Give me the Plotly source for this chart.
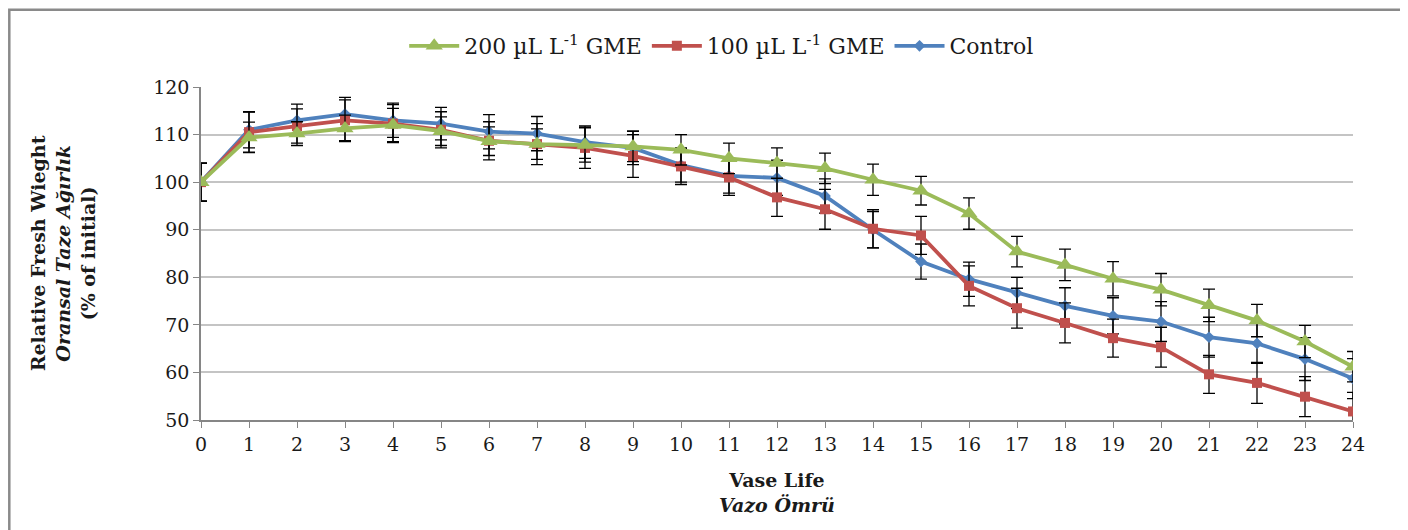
import plotly.graph_objects as go

days = list(range(25))
tick_labels = [str(d) for d in days]

g200 = [100, 109.4, 110.2, 111.3, 112.0, 110.7, 108.6, 108.0, 107.8, 107.5, 106.8, 105.0, 104.0, 102.9,
        100.5, 98.2, 93.4, 85.4, 82.6, 79.7, 77.4, 74.1, 70.9, 66.5, 61.2]
g200_err = [4, 3.2, 2.5, 2.8, 3.5, 3.0, 3.0, 3.2, 3.6, 3.2, 3.2, 3.2, 3.2, 3.2,
            3.3, 3.0, 3.3, 3.2, 3.3, 3.6, 3.4, 3.4, 3.4, 3.4, 3.2]
g100 = [100, 110.5, 111.8, 113.0, 112.3, 111.0, 108.7, 108.0, 107.2, 105.5, 103.3, 101.0, 96.8, 94.3,
        90.2, 88.8, 78.2, 73.5, 70.4, 67.2, 65.3, 59.6, 57.8, 54.9, 51.8]
g100_err = [4, 4.2, 3.6, 4.3, 4.0, 3.8, 4.0, 4.3, 4.3, 4.5, 3.8, 3.8, 4.0, 4.2,
            4.0, 4.0, 4.2, 4.2, 4.2, 4.0, 4.2, 4.0, 4.3, 4.2, 4.0]
ctrl = [100, 111.0, 113.0, 114.3, 113.0, 112.3, 110.6, 110.2, 108.4, 107.2, 103.6, 101.3, 100.9, 97.1,
        90.0, 83.3, 79.6, 76.7, 74.0, 71.9, 70.7, 67.4, 66.1, 62.8, 58.7]
ctrl_err = [4, 3.8, 3.4, 3.5, 3.6, 3.4, 3.6, 3.6, 3.4, 3.5, 3.6, 3.6, 3.7, 3.6,
            3.8, 3.7, 3.6, 3.3, 3.8, 3.8, 4.2, 4.2, 4.2, 4.5, 4.2]

series = [
    ("200 µL L<sup>-1</sup> GME", g200, g200_err, "#9BBB59", "triangle-up", 15),
    ("100 µL L<sup>-1</sup> GME", g100, g100_err, "#C0504D", "square", 10),
    ("Control", ctrl, ctrl_err, "#4F81BD", "diamond", 9),
]

FONT = "DejaVu Serif"

fig = go.Figure()
# draw in reverse so green on top
for name, vals, err, col, sym, sz in reversed(series):
    fig.add_trace(go.Scatter(
        x=days, y=vals, name=name, mode="lines+markers",
        line=dict(color=col, width=3.8),
        marker=dict(symbol=sym, size=sz, color=col),
        error_y=dict(type="data", array=err, visible=True, color="black", thickness=1.3, width=6),
    ))

fig.update_layout(
    width=1408, height=530,
    paper_bgcolor="white", plot_bgcolor="white",
    margin=dict(l=193, r=63, t=79, b=118, autoexpand=False),
    font=dict(family=FONT, size=18, color="#1a1a1a"),
    showlegend=True,
    legend=dict(orientation="h", x=0.452, xanchor="center", y=1.123, yanchor="middle",
                traceorder="reversed", font=dict(family=FONT, size=22), itemwidth=50),
    xaxis=dict(range=[0, 24], tickmode="array", tickvals=days, ticktext=tick_labels,
               showgrid=False, showline=True, linecolor="#868686", linewidth=1.5,
               ticks="outside", ticklen=6, tickcolor="#868686", zeroline=False,
               tickfont=dict(size=19)),
    yaxis=dict(range=[50, 120], dtick=10, showgrid=True, gridcolor="#c4c4c4", gridwidth=1.5,
               showline=True, linecolor="#868686", linewidth=1.5,
               ticks="outside", ticklen=6, tickcolor="#868686", zeroline=False,
               tickfont=dict(size=19)),
    annotations=[
        dict(text="<b>Vase Life</b><br><b><i>Vazo Ömrü</i></b>", xref="paper", yref="paper",
             x=0.5, y=-0.14, xanchor="center", yanchor="top", showarrow=False,
             font=dict(size=19), align="center"),
        dict(text="<b>Relative Fresh Wieght</b><br><b><i>Oransal Taze Ağırlık</i></b><br><b>(% of initial)</b>",
             xref="paper", yref="paper", x=-0.12, y=0.5, xanchor="center", yanchor="middle",
             showarrow=False, textangle=-90, font=dict(size=19), align="center"),
    ],
    shapes=[dict(type="rect", xref="paper", yref="paper", x0=-0.1664, x1=1.0425, y0=-0.4, y1=1.232,
                 line=dict(color="#8a8a8a", width=2.5))],
)

fig.write_html("out.html")
